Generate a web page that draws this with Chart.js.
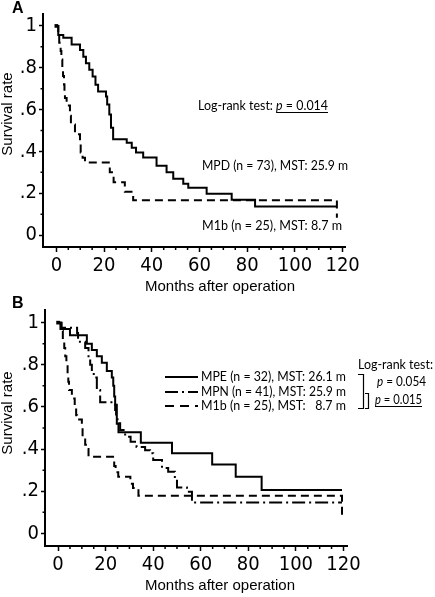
<!DOCTYPE html>
<html><head><meta charset="utf-8">
<script src="https://cdn.jsdelivr.net/npm/chart.js@4/dist/chart.umd.min.js"></script>
<style>
html,body{margin:0;padding:0;background:#fff;overflow:hidden;}
#cA{position:absolute;left:0;top:0;}
#cB{position:absolute;left:0;top:295px;}
</style></head><body>
<canvas id="cA" width="435" height="295"></canvas>
<canvas id="cB" width="435" height="302"></canvas>
<script>
// ---------- Panel A data (months after operation, survival rate) ----------
const aMpdMonths = [0, 0.8, 2.9, 6.4, 9.9, 11.3, 12.4, 13.8, 15.2, 16.4, 17.5, 20.8, 21.3, 22.2, 22.9, 23.8, 29.5, 31.6, 33.4, 36.4, 42.0, 46.2, 49.0, 53.2, 55.3, 63.0, 73.5, 83.3, 117.6];
const aMpdSurv   = [1, 0.956, 0.943, 0.911, 0.885, 0.853, 0.821, 0.790, 0.758, 0.719, 0.687, 0.663, 0.624, 0.577, 0.513, 0.458, 0.442, 0.418, 0.395, 0.371, 0.332, 0.300, 0.269, 0.245, 0.226, 0.198, 0.169, 0.137, 0.137];
const aM1bMonths = [0, 0.8, 1.2, 1.8, 2.1, 2.5, 2.8, 3.2, 3.4, 3.6, 4.3, 5.7, 6.1, 7.8, 9.9, 10.2, 11.0, 12.0, 22.4, 24.0, 28.7, 32.2, 117.6, 117.6];
const aM1bSurv   = [1, 0.96, 0.92, 0.88, 0.84, 0.80, 0.76, 0.72, 0.68, 0.655, 0.62, 0.57, 0.529, 0.482, 0.44, 0.395, 0.37, 0.347, 0.30, 0.253, 0.207, 0.166, 0.166, 0.083];

// ---------- Panel B data ----------
const bMpeMonths = [0, 1.0, 5.0, 12.1, 14.2, 16.3, 18.4, 20.5, 22.6, 23.2, 23.6, 24.0, 24.7, 25.4, 34.8, 47.9, 64.8, 74.7, 85.6, 119.4];
const bMpeSurv   = [1, 0.97, 0.94, 0.90, 0.87, 0.84, 0.81, 0.77, 0.74, 0.70, 0.65, 0.61, 0.52, 0.48, 0.43, 0.38, 0.327, 0.269, 0.206, 0.206];
const bMpnMonths = [0, 1.2, 8.0, 8.4, 11.4, 12.8, 13.5, 14.2, 15.0, 16.3, 17.7, 24.0, 24.4, 25.0, 26.1, 28.2, 30.5, 33.0, 36.6, 38.7, 40.0, 43.7, 46.3, 49.1, 50.0, 54.2, 56.3, 119.4];
const bMpnSurv   = [1, 0.976, 0.951, 0.909, 0.88, 0.83, 0.80, 0.77, 0.74, 0.68, 0.622, 0.585, 0.553, 0.522, 0.49, 0.459, 0.435, 0.41, 0.395, 0.38, 0.348, 0.31, 0.292, 0.26, 0.218, 0.197, 0.146, 0.146];
const bM1bMonths = [0, 1.5, 2.0, 2.6, 3.0, 3.5, 4.0, 4.3, 4.6, 5.8, 7.0, 7.6, 8.0, 10.0, 10.3, 11.4, 12.4, 12.8, 23.6, 24.2, 25.3, 30.4, 31.5, 33.8, 119.4, 119.4];
const bM1bSurv   = [1, 0.96, 0.92, 0.88, 0.84, 0.80, 0.76, 0.72, 0.68, 0.64, 0.60, 0.56, 0.54, 0.50, 0.46, 0.42, 0.40, 0.364, 0.32, 0.29, 0.269, 0.235, 0.215, 0.178, 0.178, 0.076];

// ---------- Ticks ----------
const xMajorTicks = [0, 20, 40, 60, 80, 100, 120];
const xTickLabels = ['0', '20', '40', '60', '80', '100', '120'];
const xMinorTicks = [5, 10, 15, 25, 30, 35, 45, 50, 55, 65, 70, 75, 85, 90, 95, 105, 110, 115];
const yMajorTicks = [0, 0.2, 0.4, 0.6, 0.8, 1];
const yTickLabels = ['0', '.2', '.4', '.6', '.8', '1'];
const yMinorTicks = [0.1, 0.3, 0.5, 0.7, 0.9];

// ---------- Texts ----------
const xTitle = 'Months after operation';
const yTitle = 'Survival rate';
const aLabels = ['MPD (n = 73), MST: 25.9 m', 'M1b (n = 25), MST: 8.7 m'];
const bLabels = ['MPE (n = 32), MST: 26.1 m', 'MPN (n = 41), MST: 25.9 m', 'M1b (n = 25), MST:   8.7 m'];

const TICK_FAMILY = '"Liberation Sans Narrow", "DejaVu Sans Condensed", sans-serif';
const TITLE_FONT = '15px "Liberation Sans", Arial, sans-serif';
const NOTE_FAMILY = 'Lato, "Open Sans", sans-serif';
const NOTE_SIZE = 13.5;
const NOTE_FONT = NOTE_SIZE + 'px ' + NOTE_FAMILY;
const NOTE_ITALIC = 'italic ' + NOTE_FONT;

function pts(m, s) { return m.map((v, i) => ({x: v, y: s[i]})); }

function line(data, dash, firstMark) {
  return {
    data: data, stepped: 'before', borderColor: '#000', backgroundColor: '#000',
    borderWidth: 2, borderDash: dash, fill: false,
    pointRadius: (c) => (firstMark && c.dataIndex === 0 ? 2.6 : 0),
    pointStyle: 'rect', pointBorderWidth: 0, pointHoverRadius: 0
  };
}

function scales(xmin, xmax, ymin, ymax, yWidth, xHeight) {
  return {
    x: {
      type: 'linear', min: xmin, max: xmax,
      afterBuildTicks: (s) => { s.ticks = xMajorTicks.map(v => ({value: v})); },
      afterFit: (s) => { s.height = xHeight; },
      ticks: { color: '#000', font: {family: TICK_FAMILY, size: 20}, padding: 2, maxRotation: 0, autoSkip: false,
               callback: (v, i) => xTickLabels[i] },
      grid: { drawOnChartArea: false, drawTicks: true, tickLength: 5, tickColor: '#000', tickWidth: 1.5 },
      border: { color: '#000', width: 2 }
    },
    y: {
      type: 'linear', min: ymin, max: ymax,
      afterBuildTicks: (s) => { s.ticks = yMajorTicks.map(v => ({value: v})); },
      afterFit: (s) => { s.width = yWidth; },
      ticks: { color: '#000', font: {family: TICK_FAMILY, size: 20}, padding: 2,
               callback: (v, i) => yTickLabels[i] },
      grid: { drawOnChartArea: false, drawTicks: true, tickLength: 4, tickColor: '#000', tickWidth: 1.5 },
      border: { color: '#000', width: 2 }
    }
  };
}

function drawMinor(chart) {
  const ctx = chart.ctx, xs = chart.scales.x, ys = chart.scales.y;
  ctx.save();
  ctx.strokeStyle = '#000'; ctx.lineWidth = 1.5;
  ctx.beginPath();
  xMinorTicks.forEach(v => { const p = xs.getPixelForValue(v); ctx.moveTo(p, xs.top); ctx.lineTo(p, xs.top + 3); });
  yMinorTicks.forEach(v => { const p = ys.getPixelForValue(v); ctx.moveTo(ys.right, p); ctx.lineTo(ys.right - 2.5, p); });
  ctx.stroke();
  ctx.restore();
}

// Draw a run of text pieces [{s, font}] starting at x, squeezed to a total width if given.
function run(ctx, pieces, x, y, totalWidth, align) {
  ctx.textBaseline = 'middle'; ctx.fillStyle = '#000'; ctx.textAlign = 'left';
  const widths = pieces.map(p => { ctx.font = p.font; return ctx.measureText(p.s).width; });
  const natural = widths.reduce((a, b) => a + b, 0);
  const k = totalWidth ? Math.min(1, totalWidth / natural) : 1;
  let cx = align === 'right' ? x - natural * k : x;
  const starts = [];
  pieces.forEach((p, i) => {
    ctx.font = p.font;
    starts.push(cx);
    ctx.fillText(p.s, cx, y, widths[i] * k);
    cx += widths[i] * k;
  });
  return {starts: starts, end: cx};
}

function underline(ctx, x0, x1, y) {
  ctx.save(); ctx.strokeStyle = '#000'; ctx.lineWidth = 1;
  ctx.beginPath(); ctx.moveTo(x0, y); ctx.lineTo(x1, y); ctx.stroke(); ctx.restore();
}

function titles(ctx, panel, yTitleY, xTitleY) {
  ctx.font = 'bold 16px "Liberation Sans", Arial, sans-serif';
  ctx.textAlign = 'left'; ctx.textBaseline = 'middle'; ctx.fillStyle = '#000';
  ctx.fillText(panel, 12, 9);
  ctx.font = TITLE_FONT; ctx.textAlign = 'center';
  ctx.fillText(xTitle, 220, xTitleY);
  ctx.save(); ctx.translate(8, yTitleY); ctx.rotate(-Math.PI / 2);
  ctx.fillText(yTitle, 0, 0);
  ctx.restore();
}

const panelA = {
  id: 'panelA',
  afterDraw(chart) {
    const ctx = chart.ctx;
    drawMinor(chart);
    titles(ctx, 'A', 114, 287);
    const r = run(ctx, [{s: 'Log-rank test: ', font: NOTE_FONT}, {s: 'p', font: NOTE_ITALIC}, {s: ' = 0.014', font: NOTE_FONT}], 198, 106, 130);
    underline(ctx, r.starts[1], r.end, 112.5);
    run(ctx, [{s: aLabels[0], font: NOTE_FONT}], 202, 166, 146);
    run(ctx, [{s: aLabels[1], font: NOTE_FONT}], 202, 226, 140);
  }
};

const panelB = {
  id: 'panelB',
  afterDraw(chart) {
    const ctx = chart.ctx;
    drawMinor(chart);
    titles(ctx, 'B', 118, 291);
    const rows = [82, 97, 111];
    const dashes = [[], [13, 4, 2, 4], [9, 6]];
    ctx.save(); ctx.strokeStyle = '#000'; ctx.lineWidth = 2.2;
    rows.forEach((y, i) => {
      ctx.setLineDash(dashes[i]); ctx.beginPath(); ctx.moveTo(165, y); ctx.lineTo(198, y); ctx.stroke();
    });
    ctx.setLineDash([]);
    ctx.lineWidth = 1.2;
    ctx.beginPath();
    ctx.moveTo(358, 79.5); ctx.lineTo(363.5, 79.5); ctx.lineTo(363.5, 113.5); ctx.lineTo(358, 113.5);
    ctx.moveTo(365, 98.5); ctx.lineTo(368.5, 98.5); ctx.lineTo(368.5, 113.5); ctx.lineTo(365, 113.5);
    ctx.stroke();
    ctx.restore();
    rows.forEach((y, i) => run(ctx, [{s: bLabels[i], font: NOTE_FONT}], 346, y, 145, 'right'));
    run(ctx, [{s: 'Log-rank test:', font: NOTE_FONT}], 358, 70, 75);
    run(ctx, [{s: 'p', font: NOTE_ITALIC}, {s: ' = 0.054', font: NOTE_FONT}], 377, 87, 49);
    const r = run(ctx, [{s: 'p', font: NOTE_ITALIC}, {s: ' = 0.015', font: NOTE_FONT}], 375, 105, 47);
    underline(ctx, r.starts[0], r.end, 111.5);
  }
};

Chart.defaults.animation = false;

new Chart(document.getElementById('cA'), {
  type: 'line',
  data: { datasets: [
    line(pts(aMpdMonths, aMpdSurv), [], true),
    line(pts(aM1bMonths, aM1bSurv), [8, 5], false)
  ]},
  options: {
    responsive: false, animation: false,
    layout: { padding: { left: 0, top: 12, right: 90, bottom: 0 } },
    plugins: { legend: { display: false }, tooltip: { enabled: false } },
    scales: scales(-5.6, 121, -0.057, 1.057, 43, 48)
  },
  plugins: [panelA]
});

new Chart(document.getElementById('cB'), {
  type: 'line',
  data: { datasets: [
    line(pts(bMpeMonths, bMpeSurv), [], true),
    line(pts(bMpnMonths, bMpnSurv), [13, 4, 2, 4], false),
    line(pts(bM1bMonths, bM1bSurv), [8, 5], false)
  ]},
  options: {
    responsive: false, animation: false,
    layout: { padding: { left: 0, top: 15, right: 88, bottom: 0 } },
    plugins: { legend: { display: false }, tooltip: { enabled: false } },
    scales: scales(-5.5, 121.5, -0.06, 1.06, 45, 51)
  },
  plugins: [panelB]
});
</script>
</body></html>
